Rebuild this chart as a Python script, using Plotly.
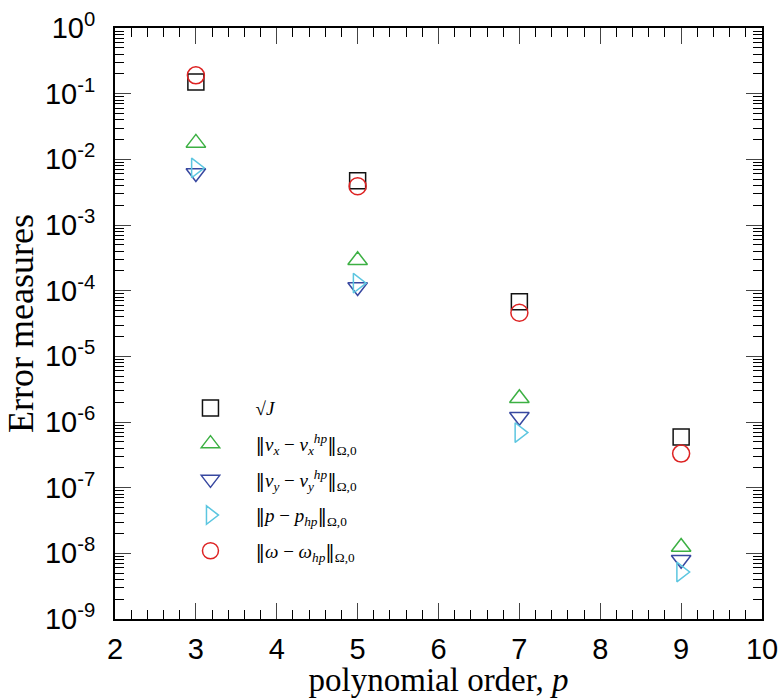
import plotly.graph_objects as go

p_order = [3, 5, 7, 9]
sqrt_J = [0.15, 0.0047, 6.8e-5, 5.9e-7]
err_vx = [0.0178, 2.9e-4, 2.3e-6, 1.25e-8]
err_vy = [0.0062, 1.14e-4, 1.2e-6, 8.0e-9]
err_p = [0.0074, 1.3e-4, 6.9e-7, 5.2e-9]
err_w = [0.19, 0.0039, 4.6e-5, 3.3e-7]

y_tick_vals = [1e0, 1e-1, 1e-2, 1e-3, 1e-4, 1e-5, 1e-6, 1e-7, 1e-8, 1e-9]
y_tick_text = ["10<sup>0</sup>", "10<sup>-1</sup>", "10<sup>-2</sup>", "10<sup>-3</sup>",
               "10<sup>-4</sup>", "10<sup>-5</sup>", "10<sup>-6</sup>", "10<sup>-7</sup>",
               "10<sup>-8</sup>", "10<sup>-9</sup>"]
x_tick_vals = [2, 3, 4, 5, 6, 7, 8, 9, 10]

NB = "<span style='font-family:DejaVu Serif'>‖</span>"

series = [
    ("√<i>J</i>", sqrt_J, "square-open", "#111111", 16),
    (NB + "<i>v<sub>x</sub></i> − <i>v<sub>x</sub><sup>hp</sup></i>" + NB + "<sub>Ω,0</sub>", err_vx, "triangle-up-open", "#3cb043", 17),
    (NB + "<i>v<sub>y</sub></i> − <i>v<sub>y</sub><sup>hp</sup></i>" + NB + "<sub>Ω,0</sub>", err_vy, "triangle-down-open", "#3848a0", 17),
    (NB + "<i>p</i> − <i>p<sub>hp</sub></i>" + NB + "<sub>Ω,0</sub>", err_p, "triangle-right-open", "#5cc6e0", 17),
    (NB + "<i>ω</i> − <i>ω<sub>hp</sub></i>" + NB + "<sub>Ω,0</sub>", err_w, "circle-open", "#dd2222", 17),
]

fig = go.Figure()
for i, (name, vals, sym, col, sz) in enumerate(series):
    fig.add_trace(go.Scatter(
        x=p_order, y=vals, mode="markers", name=name, legendgroup=str(i),
        marker=dict(symbol=sym, size=sz, color=col, line=dict(color=col, width=1.5)),
    ))

minor_y = []
for k in range(-9, 0):
    for m in range(2, 10):
        minor_y.append(m * 10 ** k)

fig.update_layout(
    width=784, height=698,
    margin=dict(l=115, r=22, t=28, b=79),
    plot_bgcolor="white", paper_bgcolor="white",
    font=dict(family="Liberation Sans, Arial", color="black"),
    showlegend=True,
    legend=dict(
        x=0.078, y=0.389, xanchor="left", yanchor="top",
        bgcolor="rgba(0,0,0,0)", font=dict(family="Liberation Serif", size=19),
        itemwidth=80, tracegroupgap=8,
    ),
    xaxis=dict(
        range=[2, 10], tickvals=x_tick_vals, ticks="inside", ticklen=16, tickwidth=1.3,
        showline=True, linewidth=2, linecolor="black", mirror="ticks", automargin=False,
        showgrid=False, zeroline=False, tickfont=dict(size=29), ticklabelstandoff=3,
        minor=dict(dtick=0.2, ticks="inside", ticklen=9, tickwidth=1, tickcolor="black"),
        title=dict(text="polynomial order, <i>p</i>", font=dict(family="Liberation Serif", size=33), standoff=12),
    ),
    yaxis=dict(
        type="log", range=[-9, 0], tickvals=y_tick_vals, ticktext=y_tick_text,
        ticks="inside", ticklen=16, tickwidth=1.3, automargin=False,
        showline=True, linewidth=2, linecolor="black", mirror="ticks",
        showgrid=False, zeroline=False, tickfont=dict(size=29), ticklabelstandoff=12,
        minor=dict(tickvals=minor_y, ticks="inside", ticklen=9, tickwidth=1, tickcolor="black"),
        title=dict(text="Error measures", font=dict(family="Liberation Serif", size=36), standoff=0),
    ),
)

fig.write_html("out.html")
